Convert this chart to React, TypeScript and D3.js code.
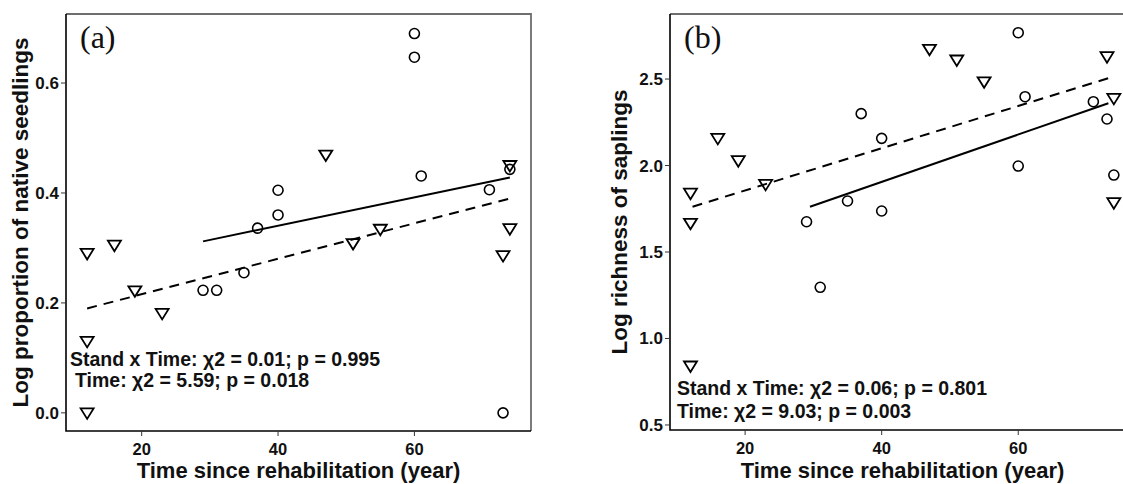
import * as d3 from 'd3'

// panel (a): log proportion of native seedlings
const triAx = [12, 16, 12, 12, 19, 23, 47, 51, 55, 73, 74, 74]
const triAy = [0.29, 0.305, 0.13, 0, 0.222, 0.181, 0.469, 0.308, 0.334, 0.286, 0.335, 0.45]
const circAx = [29, 31, 35, 37, 40, 40, 60, 60, 61, 71, 73, 74]
const circAy = [0.223, 0.223, 0.255, 0.336, 0.36, 0.405, 0.69, 0.647, 0.431, 0.406, 0, 0.443]
const solidAx = [29, 74]
const solidAy = [0.312, 0.428]
const dashAx = [12, 74]
const dashAy = [0.19, 0.39]

// panel (b): log richness of saplings
const triBx = [12, 12, 12, 16, 19, 23, 47, 51, 55, 73, 74, 74]
const triBy = [1.84, 1.666, 0.841, 2.157, 2.028, 1.891, 2.672, 2.61, 2.484, 2.629, 2.388, 1.785]
const circBx = [29, 31, 35, 37, 40, 40, 60, 60, 61, 71, 73, 74]
const circBy = [1.675, 1.296, 1.795, 2.3, 2.157, 1.737, 2.768, 1.997, 2.398, 2.369, 2.269, 1.945]
const solidBx = [29.5, 73.2]
const solidBy = [1.762, 2.36]
const dashBx = [12.3, 73.6]
const dashBy = [1.762, 2.51]

const xTicks = [20, 40, 60]
const yTicksA = [0.0, 0.2, 0.4, 0.6]
const yTicksB = [0.5, 1.0, 1.5, 2.0, 2.5]

const font = 'Liberation Sans, Arial, sans-serif'

type PanelProps = {
  left: number
  right: number
  top: number
  bottom: number
  xDomain: [number, number]
  yDomain: [number, number]
  yTicks: number[]
  yFmt: (v: number) => string
  triX: number[]
  triY: number[]
  circX: number[]
  circY: number[]
  solidX: number[]
  solidY: number[]
  dashX: number[]
  dashY: number[]
  tag: string
  yTitle: string
  stats: string[]
  statsX: number[]
  statsY: number[]
  yTitleX: number
}

const Panel = (p: PanelProps) => {
  const x = d3.scaleLinear().domain(p.xDomain).range([p.left, p.right])
  const y = d3.scaleLinear().domain(p.yDomain).range([p.bottom, p.top])
  const line = d3
    .line<[number, number]>()
    .x((d) => x(d[0]))
    .y((d) => y(d[1]))
  const tri = (cx: number, cy: number) => {
    const w = 6.5
    return `M${cx - w},${cy - 4.5}L${cx + w},${cy - 4.5}L${cx},${cy + 6}Z`
  }
  const midY = (p.top + p.bottom) / 2
  const midX = (p.left + p.right) / 2
  return (
    <g>
      {/* frame: top/right grey */}
      <path
        d={`M${p.left},${p.top}L${p.right},${p.top}L${p.right},${p.bottom}`}
        fill="none"
        stroke="#6e6e6e"
        strokeWidth={1.8}
      />
      <path
        d={`M${p.left},${p.top}L${p.left},${p.bottom}L${p.right},${p.bottom}`}
        fill="none"
        stroke="#000"
        strokeWidth={1.6}
      />
      {xTicks.map((t) => (
        <g key={'x' + t}>
          <line x1={x(t)} x2={x(t)} y1={p.bottom} y2={p.bottom + 5} stroke="#333" strokeWidth={1} />
          <text x={x(t)} y={p.bottom + 24} textAnchor="middle" fontFamily={font} fontWeight="bold" fontSize={16.5} fill="#111">
            {t}
          </text>
        </g>
      ))}
      {p.yTicks.map((t) => (
        <g key={'y' + t}>
          <line x1={p.left - 5} x2={p.left} y1={y(t)} y2={y(t)} stroke="#333" strokeWidth={1} />
          <text x={p.left - 7} y={y(t) + 6} textAnchor="end" fontFamily={font} fontWeight="bold" fontSize={17} fill="#111">
            {p.yFmt(t)}
          </text>
        </g>
      ))}
      <text x={midX} y={478} textAnchor="middle" fontFamily={font} fontWeight="bold" fontSize={22} fill="#111">
        Time since rehabilitation (year)
      </text>
      <text
        transform={`translate(${p.yTitleX},${midY}) rotate(-90)`}
        textAnchor="middle"
        fontFamily={font}
        fontWeight="bold"
        fontSize={22.5}
        fill="#111"
      >
        {p.yTitle}
      </text>
      <text x={p.left + 14} y={p.top + 34} fontFamily="Liberation Serif, Times New Roman, serif" fontSize={32} fill="#111">
        {p.tag}
      </text>
      <path
        d={line(p.solidX.map((v, i) => [v, p.solidY[i]] as [number, number])) ?? ''}
        fill="none"
        stroke="#000"
        strokeWidth={2}
      />
      <path
        d={line(p.dashX.map((v, i) => [v, p.dashY[i]] as [number, number])) ?? ''}
        fill="none"
        stroke="#000"
        strokeWidth={2}
        strokeDasharray="10 7"
      />
      {p.circX.map((v, i) => (
        <circle key={'c' + i} cx={x(v)} cy={y(p.circY[i])} r={5} fill="none" stroke="#000" strokeWidth={1.6} />
      ))}
      {p.triX.map((v, i) => (
        <path key={'t' + i} d={tri(x(v), y(p.triY[i]))} fill="none" stroke="#000" strokeWidth={1.8} strokeLinejoin="miter" />
      ))}
      {p.stats.map((s, i) => (
        <text key={'s' + i} x={p.statsX[i]} y={p.statsY[i]} fontFamily={font} fontWeight="bold" fontSize={19.5} fill="#111">
          {s}
        </text>
      ))}
    </g>
  )
}

export default function App() {
  return (
    <svg
      width={1123}
      height={484}
      style={{ position: 'absolute', left: 0, top: 0, background: '#fff' }}
    >
      <rect width={1123} height={484} fill="#fff" />
      <Panel
        left={66}
        right={531}
        top={14}
        bottom={431}
        xDomain={[8.9, 77.1]}
        yDomain={[-0.033, 0.7256]}
        yTicks={yTicksA}
        yFmt={d3.format('.1f')}
        triX={triAx}
        triY={triAy}
        circX={circAx}
        circY={circAy}
        solidX={solidAx}
        solidY={solidAy}
        dashX={dashAx}
        dashY={dashAy}
        tag="(a)"
        yTitle="Log proportion of native seedlings"
        yTitleX={28}
        stats={['Stand x Time: χ2 = 0.01; p = 0.995', 'Time: χ2 = 5.59; p = 0.018']}
        statsX={[70, 75]}
        statsY={[366, 387]}
      />
      <Panel
        left={670}
        right={1135}
        top={14}
        bottom={430}
        xDomain={[9.0, 77.1]}
        yDomain={[0.471, 2.876]}
        yTicks={yTicksB}
        yFmt={d3.format('.1f')}
        triX={triBx}
        triY={triBy}
        circX={circBx}
        circY={circBy}
        solidX={solidBx}
        solidY={solidBy}
        dashX={dashBx}
        dashY={dashBy}
        tag="(b)"
        yTitle="Log richness of saplings"
        yTitleX={627}
        stats={['Stand x Time: χ2 = 0.06; p = 0.801', 'Time: χ2 = 9.03; p = 0.003']}
        statsX={[677, 677]}
        statsY={[395, 418]}
      />
    </svg>
  )
}
